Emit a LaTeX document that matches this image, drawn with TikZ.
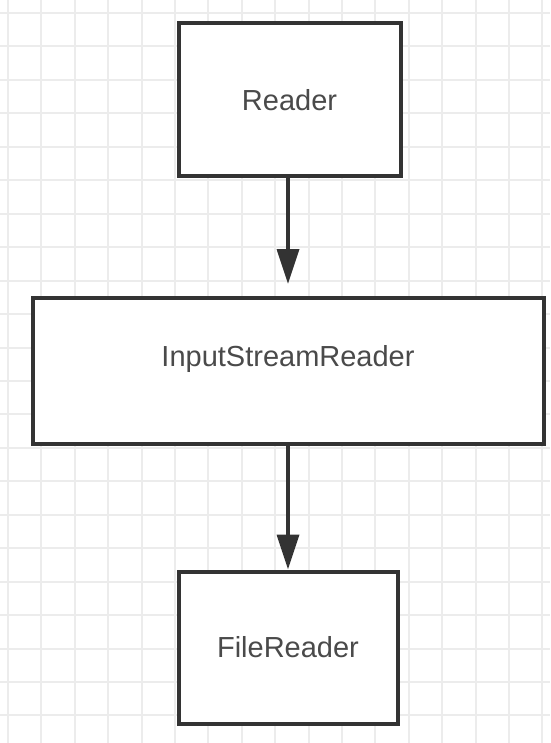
\documentclass[tikz,border=0pt]{standalone}
\usepackage{fontspec}
\setmainfont{Liberation Sans}
\usetikzlibrary{arrows.meta}
\definecolor{gridc}{HTML}{ECECEC}
\definecolor{boxc}{HTML}{333333}
\definecolor{txtc}{HTML}{4A4A4A}
\tikzset{
  classbox/.style={draw=boxc, line width=4pt, fill=white, inner sep=0pt,
    font=\fontsize{29}{32}\selectfont, text=txtc},
  link/.style={draw=boxc, line width=3.5pt, -{Triangle[length=35pt,width=22pt]}}
}
\begin{document}
\begin{tikzpicture}[x=1pt,y=-1pt]
\useasboundingbox (0,0) rectangle (550,743);
\fill[white] (0,0) rectangle (550,743);
\foreach \i in {0,...,16} {
  \draw[gridc, line width=2pt] ({8+33.4*\i},0) -- ({8+33.4*\i},743);
}
\foreach \j in {0,...,22} {
  \draw[gridc, line width=2pt] (0,{13+33.45*\j}) -- (550,{13+33.45*\j});
}
\node[classbox, minimum width=222pt, minimum height=153pt] (reader) at (289.5,100) {Reader};
\node[classbox, minimum width=511pt, minimum height=146pt] (isr) at (288,371) {\smash{\raisebox{4.5pt}{InputStreamReader}}};
\node[classbox, minimum width=219pt, minimum height=152pt] (fr) at (288,647.5) {FileReader};
\draw[link, shorten >=12pt] (reader.south -| 288,0) -- (isr.north -| 288,0);
\draw[link] (isr.south -| 288,0) -- (fr.north -| 288,0);
\end{tikzpicture}
\end{document}
